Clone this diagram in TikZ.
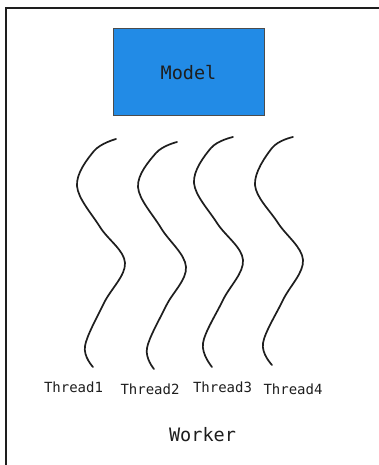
\documentclass[tikz,border=0pt]{standalone}
\usepackage{fontspec}
\newfontfamily\monofont{DejaVu Sans Mono}
\definecolor{boxblue}{RGB}{34,139,230}
\definecolor{ink}{RGB}{30,30,30}
\begin{document}
\begin{tikzpicture}[x=1pt,y=-1pt,
  wave/.style={draw=ink,line width=1.7pt,line cap=round},
  lbl/.style={font=\monofont\fontsize{14}{16}\selectfont,text=ink,inner sep=0pt},
  big/.style={font=\monofont\fontsize{18.5}{21}\selectfont,text=ink,inner sep=0pt}]
\useasboundingbox (0,0) rectangle (378,465);
\fill[white] (0,0) rectangle (378,465);
% frame
\draw[ink,line width=1.2pt] (6,470) -- (6,8) -- (382,8);
% model box
\node[draw=black!70,line width=1pt,fill=boxblue,minimum width=151pt,minimum height=87pt,inner sep=0pt] (model) at (188.5,72.5) {};
\node[big] (modeltxt) at (model.center) {Model};
% threads
\draw[wave] plot[smooth,tension=0.6] coordinates {(116,139) (94,151) (77,186) (100,227) (125,263) (104,303) (85,346) (93,367)};
\draw[wave] plot[smooth,tension=0.6] coordinates {(177,142) (156,153) (138,187) (161,228) (186,267) (166,306) (147,348) (154,369)};
\draw[wave] plot[smooth,tension=0.6] coordinates {(233,137) (211,148) (194,183) (217,223) (243,260) (223,300) (203,343) (212,367)};
\draw[wave] plot[smooth,tension=0.6] coordinates {(293,137) (272,148) (255,185) (278,223) (303,260) (283,300) (263,343) (272,365)};
% labels
\node[lbl] (t1) at (73.5,387) {Thread1};
\node[lbl] (t2) at (150,389) {Thread2};
\node[lbl] (t3) at (222.5,387) {Thread3};
\node[lbl] (t4) at (293,389) {Thread4};
\node[big] (worker) at (202.5,435) {Worker};
\end{tikzpicture}
\end{document}
